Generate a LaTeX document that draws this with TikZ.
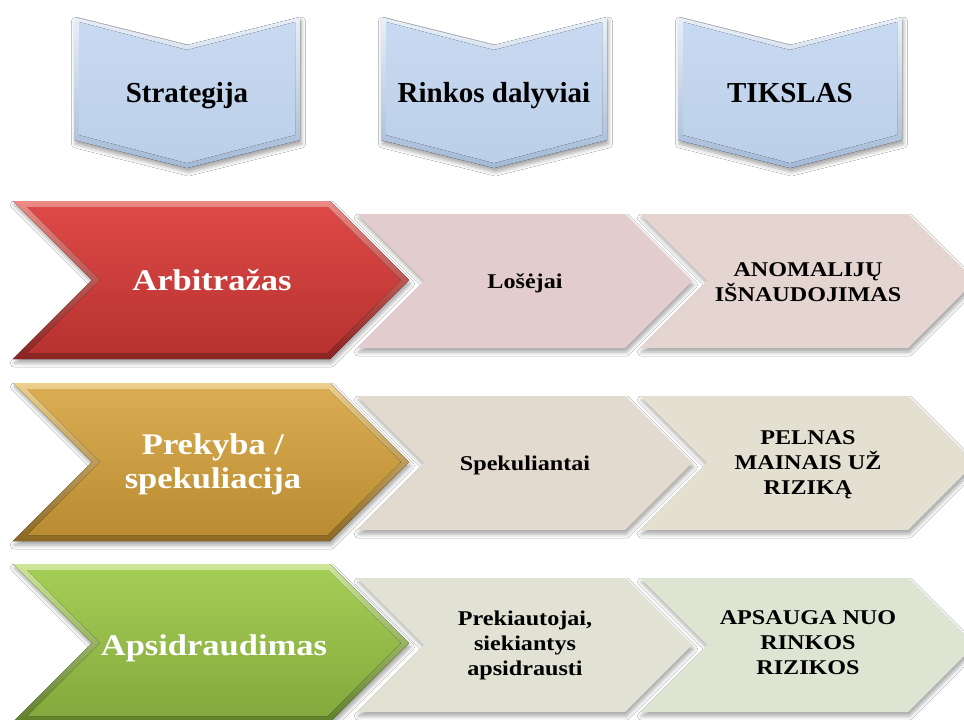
\documentclass[tikz,border=0pt]{standalone}
\usepackage{fontspec}
\setmainfont{Liberation Serif}
\newfontfamily\widefont[FakeStretch=1.15]{Liberation Serif}
\usetikzlibrary{shadows.blur}

% face and rim colours
\definecolor{blueFace}{HTML}{C8DAF1}
\definecolor{blueFaceB}{HTML}{BBCFE8}
\definecolor{blueRimT}{HTML}{E8EFF8}
\definecolor{blueRimB}{HTML}{A3B9D6}
\definecolor{redFaceT}{HTML}{DD4946}
\definecolor{redFaceB}{HTML}{B7322F}
\definecolor{redRimT}{HTML}{EC8A86}
\definecolor{redRimB}{HTML}{8A2321}
\definecolor{goldFaceT}{HTML}{DAAD52}
\definecolor{goldFaceB}{HTML}{B98C31}
\definecolor{goldRimT}{HTML}{EDD08E}
\definecolor{goldRimB}{HTML}{8C6822}
\definecolor{greenFaceT}{HTML}{A4CD55}
\definecolor{greenFaceB}{HTML}{84A93D}
\definecolor{greenRimT}{HTML}{CDE69A}
\definecolor{greenRimB}{HTML}{61802A}
\definecolor{midA}{HTML}{E3CCCD}
\definecolor{endA}{HTML}{E4D5D0}
\definecolor{midB}{HTML}{E3DACF}
\definecolor{endB}{HTML}{E3E0D2}
\definecolor{midC}{HTML}{E1E2D3}
\definecolor{endC}{HTML}{DEE4D2}

% right-pointing chevron: left x, corner x, centre y, half height, depth, options
\newcommand{\hchev}[6]{%
  \fill[#6] ({(#1)},{-((#3)-(#4))}) -- ({(#2)},{-((#3)-(#4))}) -- ({(#2)+(#5)},{-(#3)})
    -- ({(#2)},{-((#3)+(#4))}) -- ({(#1)},{-((#3)+(#4))}) -- ({(#1)+(#5)},{-(#3)}) -- cycle;}
% down-pointing chevron: left x, right x, top y, bottom y, depth, options
\newcommand{\vchev}[6]{%
  \fill[#6] ({(#1)},{-(#3)}) -- ({((#1)+(#2))/2},{-((#3)+(#5))}) -- ({(#2)},{-(#3)})
    -- ({(#2)},{-(#4)}) -- ({((#1)+(#2))/2},{-((#4)+(#5))}) -- ({(#1)},{-(#4)}) -- cycle;}
\def\bev{6}
\def\tbev{5}
% bevelled strategy arrow: centre y, rim top/bottom, face top/bottom
\newcommand{\bigchev}[5]{%
  \hchev{13}{330}{#1}{79}{79}{top color=#2,bottom color=#3,softshadow}
  \hchev{13+2.414*\bev}{330-0.414*\bev}{#1}{79-\bev}{79-\bev}{top color=#4,bottom color=#5}}
% bevelled heading arrow: left x, right x
\newcommand{\headchev}[2]{%
  \vchev{#1}{#2}{17}{140}{28}{top color=blueRimT,bottom color=blueRimB,softshadow}
  \vchev{#1+\tbev}{#2-\tbev}{17+\tbev}{140-\tbev}{28}{top color=blueFace,bottom color=blueFaceB}}

\begin{document}
\begin{tikzpicture}[x=1pt,y=1pt,
  softshadow/.style={blur shadow={shadow xshift=1.5pt,shadow yshift=-4pt,
      shadow blur radius=4pt,shadow opacity=35}},
  headlbl/.style={font=\fontsize{29}{34}\selectfont\bfseries,text=black,anchor=base,inner sep=0pt},
  biglbl/.style={font=\widefont\fontsize{30}{34}\selectfont\bfseries,text=white,align=center,inner sep=0pt},
  midlbl/.style={font=\widefont\fontsize{21}{25}\selectfont\bfseries,text=black,align=center,inner sep=0pt}]
\useasboundingbox (0,0) rectangle (964,-720);
\clip (0,0) rectangle (964,-720);
\fill[white] (0,0) rectangle (964,-720);

% column headings
\headchev{74}{300}
\headchev{381}{607}
\headchev{678}{902}
\node[headlbl] (n-strat)   at (187,-102) {Strategija};
\node[headlbl] (n-rinkos)  at (494,-102) {Rinkos dalyviai};
\node[headlbl] (n-tikslas) at (790,-102) {TIKSLAS};

% participant and goal arrows
\hchev{640}{908}{281}{67}{67}{fill=endA,softshadow}
\hchev{357}{625}{281}{67}{67}{fill=midA,softshadow}
\hchev{640}{908}{463}{67}{67}{fill=endB,softshadow}
\hchev{357}{625}{463}{67}{67}{fill=midB,softshadow}
\hchev{640}{908}{645}{67}{67}{fill=endC,softshadow}
\hchev{357}{625}{645}{67}{67}{fill=midC,softshadow}

% strategy arrows
\bigchev{280}{redRimT}{redRimB}{redFaceT}{redFaceB}
\bigchev{462}{goldRimT}{goldRimB}{goldFaceT}{goldFaceB}
\bigchev{643}{greenRimT}{greenRimB}{greenFaceT}{greenFaceB}

\node[biglbl,anchor=base] (n-arb) at (212,-290) {Arbitražas};
\node[biglbl] (n-prek) at (213,-464) {Prekyba /\\spekuliacija};
\node[biglbl,anchor=base] (n-aps) at (214,-655) {Apsidraudimas};

\node[midlbl,anchor=base] (n-losejai) at (525,-288) {Lošėjai};
\node[midlbl] (n-anom) at (808,-282) {ANOMALIJŲ\\IŠNAUDOJIMAS};
\node[midlbl,anchor=base] (n-spek) at (525,-470) {Spekuliantai};
\node[midlbl] (n-pelnas) at (808,-465) {PELNAS\\MAINAIS UŽ\\RIZIKĄ};
\node[midlbl] (n-prekiaut) at (525,-645) {Prekiautojai,\\siekiantys\\apsidrausti};
\node[midlbl] (n-apsauga) at (808,-643) {APSAUGA NUO\\RINKOS\\RIZIKOS};
\end{tikzpicture}
\end{document}
